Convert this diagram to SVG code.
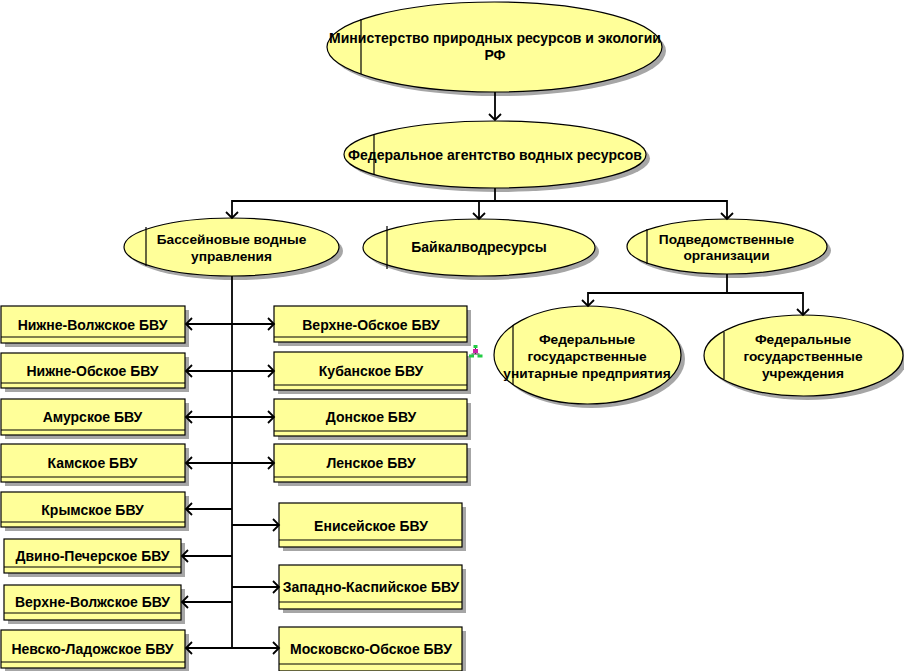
<svg xmlns="http://www.w3.org/2000/svg" width="904" height="671" viewBox="0 0 904 671">
<style>
.s{fill:#a6a6a6;stroke:none}
.f{fill:#ffff99;stroke:#000;stroke-width:1.2}
.d{fill:none;stroke:#000;stroke-width:1.2}
text{font-family:"Liberation Sans",Arial,sans-serif;font-weight:700;font-size:14px;text-anchor:middle;fill:#000}
.t{font-size:13.700px}
.c{fill:none;stroke:#000;stroke-width:1.800}
</style>
<defs>
<marker id="a" markerUnits="userSpaceOnUse" markerWidth="14" markerHeight="14" refX="10" refY="7" orient="auto-start-reverse" viewBox="0 0 14 14"><path d="M4 1L10 7L4 13" fill="none" stroke="#000" stroke-width="1.800"/></marker>
</defs>
<rect width="904" height="671" fill="#fff"/>
<g id="n1"><ellipse class="s" cx="498.500" cy="51" rx="167.500" ry="45"/><ellipse class="f" cx="494.500" cy="47" rx="167.500" ry="45"/><path class="d" d="M361 19V74"/><text x="495" y="43">Министерство природных ресурсов и экологии</text><text x="495" y="60">РФ</text></g>
<g id="n2"><ellipse class="s" cx="499" cy="158.500" rx="151" ry="33.500"/><ellipse class="f" cx="495" cy="154.500" rx="151" ry="33.500"/><path class="d" d="M374 134V175"/><text x="495" y="160">Федеральное агентство водных ресурсов</text></g>
<g id="n3"><ellipse class="s" cx="235.500" cy="251" rx="107.500" ry="29"/><ellipse class="f" cx="231.500" cy="247" rx="107.500" ry="29"/><path class="d" d="M146 227V266"/><text class="t" x="231.500" y="244">Бассейновые водные</text><text class="t" x="231.500" y="261">управления</text></g>
<g id="n4"><ellipse class="s" cx="483" cy="251.500" rx="116" ry="28.500"/><ellipse class="f" cx="479" cy="247.500" rx="116" ry="28.500"/><path class="d" d="M387 226V269"/><text x="479" y="252">Байкалводресурсы</text></g>
<g id="n5"><ellipse class="s" cx="731" cy="250.500" rx="100" ry="27.500"/><ellipse class="f" cx="727" cy="246.500" rx="100" ry="27.500"/><path class="d" d="M647 229V264"/><text class="t" x="726.500" y="244">Подведомственные</text><text class="t" x="726.500" y="260">организации</text></g>
<g id="n6"><ellipse class="s" cx="591.500" cy="359" rx="93.500" ry="49"/><ellipse class="f" cx="587.500" cy="355" rx="93.500" ry="49"/><path class="d" d="M513 325V385"/><text class="t" x="587" y="344">Федеральные</text><text class="t" x="587" y="361">государственные</text><text class="t" x="587" y="378">унитарные предприятия</text></g>
<g id="n7"><ellipse class="s" cx="807.500" cy="359.500" rx="99.500" ry="40.500"/><ellipse class="f" cx="803.500" cy="355.500" rx="99.500" ry="40.500"/><path class="d" d="M724 332V379"/><text class="t" x="803" y="344">Федеральные</text><text class="t" x="803" y="361">государственные</text><text class="t" x="803" y="378">учреждения</text></g>
<g id="b1"><rect class="s" x="5" y="310" width="184" height="37"/><rect class="f" x="1" y="306" width="184" height="37"/><path class="d" d="M1 337H185"/><text x="92.500" y="330">Нижне-Волжское БВУ</text></g>
<g id="b2"><rect class="s" x="5" y="357" width="184" height="35"/><rect class="f" x="1" y="353" width="184" height="35"/><path class="d" d="M1 383H185"/><text x="92.500" y="376">Нижне-Обское БВУ</text></g>
<g id="b3"><rect class="s" x="5" y="403" width="184" height="36"/><rect class="f" x="1" y="399" width="184" height="36"/><path class="d" d="M1 430H185"/><text x="92.500" y="422">Амурское БВУ</text></g>
<g id="b4"><rect class="s" x="5" y="448" width="184" height="38"/><rect class="f" x="1" y="444" width="184" height="38"/><path class="d" d="M1 477H185"/><text x="92.500" y="468">Камское БВУ</text></g>
<g id="b5"><rect class="s" x="5" y="496" width="184" height="35"/><rect class="f" x="1" y="492" width="184" height="35"/><path class="d" d="M1 522H185"/><text x="92.500" y="515">Крымское БВУ</text></g>
<g id="b6"><rect class="s" x="8" y="543" width="177" height="34"/><rect class="f" x="4" y="539" width="177" height="34"/><path class="d" d="M4 567H181"/><text x="92.500" y="561">Двино-Печерское БВУ</text></g>
<g id="b7"><rect class="s" x="8" y="589" width="177" height="35"/><rect class="f" x="4" y="585" width="177" height="35"/><path class="d" d="M4 613H181"/><text x="92.500" y="607">Верхне-Волжское БВУ</text></g>
<g id="b8"><rect class="s" x="5" y="634" width="184" height="38"/><rect class="f" x="1" y="630" width="184" height="38"/><path class="d" d="M1 662H185"/><text x="92.500" y="654">Невско-Ладожское БВУ</text></g>
<g id="r1"><rect class="s" x="278" y="310" width="193" height="36"/><rect class="f" x="274" y="306" width="193" height="36"/><path class="d" d="M274 337H467"/><text x="371" y="330">Верхне-Обское БВУ</text></g>
<g id="r2"><rect class="s" x="278" y="356" width="193" height="38"/><rect class="f" x="274" y="352" width="193" height="38"/><path class="d" d="M274 385H467"/><text x="371" y="376">Кубанское БВУ</text></g>
<g id="r3"><rect class="s" x="278" y="403" width="193" height="37"/><rect class="f" x="274" y="399" width="193" height="37"/><path class="d" d="M274 431H467"/><text x="371" y="422">Донское БВУ</text></g>
<g id="r4"><rect class="s" x="278" y="448" width="193" height="38"/><rect class="f" x="274" y="444" width="193" height="38"/><path class="d" d="M274 477H467"/><text x="371" y="468">Ленское БВУ</text></g>
<g id="r5"><rect class="s" x="283" y="507" width="183" height="44"/><rect class="f" x="279" y="503" width="183" height="44"/><path class="d" d="M279 540H462"/><text x="371" y="531">Енисейское БВУ</text></g>
<g id="r6"><rect class="s" x="283" y="569" width="183" height="44"/><rect class="f" x="279" y="565" width="183" height="44"/><path class="d" d="M279 602H462"/><text x="371" y="592">Западно-Каспийское БВУ</text></g>
<g id="r7"><rect class="s" x="283" y="631" width="183" height="44"/><rect class="f" x="279" y="627" width="183" height="44"/><path class="d" d="M279 664H462"/><text x="371" y="654">Московско-Обское БВУ</text></g>
<g id="connectors">
<path class="c" d="M495 92V120" marker-end="url(#a)"/>
<path class="c" d="M495 188V201"/>
<path class="c" d="M232 218V201H727V219" marker-start="url(#a)" marker-end="url(#a)"/>
<path class="c" d="M479 201V219" marker-end="url(#a)"/>
<path class="c" d="M232 276V648"/>
<path class="c" d="M186 324H274" marker-start="url(#a)" marker-end="url(#a)"/>
<path class="c" d="M186 371H274" marker-start="url(#a)" marker-end="url(#a)"/>
<path class="c" d="M186 417H274" marker-start="url(#a)" marker-end="url(#a)"/>
<path class="c" d="M186 463H274" marker-start="url(#a)" marker-end="url(#a)"/>
<path class="c" d="M232 509H186" marker-end="url(#a)"/>
<path class="c" d="M232 556H182" marker-end="url(#a)"/>
<path class="c" d="M232 602H182" marker-end="url(#a)"/>
<path class="c" d="M186 648H279" marker-start="url(#a)" marker-end="url(#a)"/>
<path class="c" d="M232 525H279" marker-end="url(#a)"/>
<path class="c" d="M232 587H279" marker-end="url(#a)"/>
<path class="c" d="M727 274V293"/>
<path class="c" d="M588 306V293H803V315" marker-start="url(#a)" marker-end="url(#a)"/>
</g>
<g id="icon"><path d="M475.500 347V354M471.500 354H479.500" stroke="#333" stroke-width="1" fill="none"/><rect x="473.500" y="345" width="4" height="3" fill="#22cc44"/><rect x="473" y="349" width="5" height="4" fill="#cc22aa"/><rect x="469" y="354.500" width="5" height="3" fill="#22cc44"/><rect x="477.500" y="354.500" width="5" height="3" fill="#22cc44"/></g>
</svg>
